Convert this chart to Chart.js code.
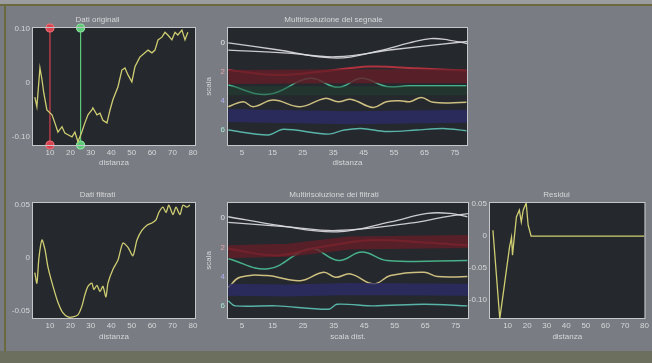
<!DOCTYPE html>
<html>
<head>
<meta charset="utf-8">
<script src="https://cdn.jsdelivr.net/npm/chart.js@4/dist/chart.umd.min.js"></script>
<style>
  html, body { margin: 0; padding: 0; }
  body { width: 652px; height: 363px; background: #797c82; position: relative; overflow: hidden; }
  #bordoAlto { position: absolute; left: 0; top: 0; width: 652px; height: 4px; background: #9a9c9f; }
  #lineaAlta { position: absolute; left: 0; top: 4px; width: 652px; height: 2px; background: #6b6a3e; }
  #lineaSx { position: absolute; left: 4px; top: 4px; width: 2px; height: 348px; background: #6b6a3e; }
  #bordoBasso { position: absolute; left: 0; top: 351px; width: 652px; height: 12px; background: #6d6f5e; }
  canvas.pannello { position: absolute; }
</style>
</head>
<body>
<div id="bordoAlto"></div>
<div id="lineaAlta"></div>
<div id="lineaSx"></div>
<div id="bordoBasso"></div>
<script>
// ---------- Dati originali ----------
const distOrig = [2.6,3.6,5.1,6.1,7.0,8.5,11,12.4,13.9,15.9,17.3,18.8,20.8,22.2,23.7,25.6,27.1,28.6,30.5,31,33,34.5,35.9,37.9,39.4,40.8,43.3,45.2,46.7,48.2,50.1,51.6,54,56.5,58,59.9,61.4,62.9,64.8,66.3,67.7,69.7,71.2,72.6,74.6,76.1,77.5];
const valOrig = [-0.026,-0.044,0.028,0.006,-0.019,-0.05,-0.059,-0.074,-0.091,-0.081,-0.093,-0.096,-0.1,-0.091,-0.109,-0.091,-0.074,-0.059,-0.05,-0.046,-0.059,-0.056,-0.069,-0.074,-0.05,-0.031,-0.007,0.024,0.028,0.015,0.002,0.03,0.048,0.056,0.061,0.056,0.061,0.08,0.085,0.094,0.089,0.08,0.094,0.089,0.098,0.08,0.094];

// cursori sul segnale originale
const cursoreRosso = 10;
const cursoreVerde = 25;

// ---------- Dati filtrati ----------
const distFilt = [2.6,3.6,4.6,6.1,7.6,9.0,11.5,13.9,16.3,18.8,21.2,23.7,25.6,27.1,28.6,30.5,31.5,33,34.5,35.9,37.4,38.4,40.8,43.3,45.7,48.2,50.6,52.6,55,57.5,59.9,61.9,63.3,65.3,66.8,68.2,70.2,71.7,73.6,75.1,77.0,78.5];
const valFilt = [-0.014,-0.024,0,0.017,0.0075,-0.0085,-0.027,-0.042,-0.052,-0.056,-0.056,-0.054,-0.046,-0.035,-0.027,-0.024,-0.03,-0.026,-0.032,-0.027,-0.037,-0.024,-0.011,-0.002,0.014,0.01,0.002,0.017,0.026,0.031,0.033,0.036,0.043,0.048,0.043,0.05,0.041,0.048,0.041,0.05,0.048,0.05];

// ---------- Residui ----------
const distRes = [2.5,6,8,11,12,12.5,14.5,16,17,18,19.5,20.5,22,80];
const valRes = [0.009,-0.13,-0.085,-0.017,-0.002,-0.03,0.03,0.041,0.022,0.041,0.052,0.017,0,0];

// ---------- Multirisoluzione del segnale (livelli 0..6) ----------
const mrOrigBianco1X = [0.5,16,36,50,60,67,73,79];
const mrOrigBianco1 = [0.0,0.45,1.05,0.55,0.0,-0.3,-0.2,0.05];
const mrOrigBianco2X = [0.5,20,36,55,79];
const mrOrigBianco2 = [0.5,0.7,0.95,0.45,-0.1];
const mrOrigRossoX = [0.5,16.4,30.6,47,62.4,78.8];
const mrOrigRosso = [1.86,2.2,1.98,1.63,1.75,1.9];
const mrOrigVerdeX = [0.5,13.6,27.3,36.6,44.3,52.5,60,78.8];
const mrOrigVerde = [2.9,3.54,2.44,3.06,2.44,3.0,2.95,2.95];
const mrOrigGialloX = [0.5,5.4,8.7,15.3,24.1,32.3,36.6,41,48.1,52.5,56.9,60.2,64,67.9,78.8];
const mrOrigGiallo = [4.39,4.05,4.39,3.93,4.39,3.82,4.05,3.89,4.44,4.05,3.98,4.05,3.75,4.09,4.09];
const mrOrigCianoX = [0.5,13.6,18.6,33.4,38.6,44.3,52.5,62.4,71.1,78.8];
const mrOrigCiano = [6.0,6.34,5.95,6.28,6.0,5.89,6.1,6.0,5.89,6.05];
const mrOrigBandeX = [0.5,40,79];
const mrOrigBandaRossa = [2.35,2.3,2.3];
const mrOrigBandaVerde = [3.3,3.3,3.3];
const mrOrigBandaBlu = [5.0,5.15,5.05];

// ---------- Multirisoluzione dei filtrati ----------
const mrFiltBianco1X = [0.5,16.4,36.1,53.6,65.7,73.3,78.8];
const mrFiltBianco1 = [-0.09,0.48,0.94,0.26,-0.32,-0.32,-0.09];
const mrFiltBianco2X = [0.5,20,36,60,72,79];
const mrFiltBianco2 = [0.3,0.6,0.85,0.35,-0.1,-0.3];
const mrFiltRossoX = [0.5,16.4,30.6,47,62.4,78.8];
const mrFiltRosso = [2.09,2.55,1.98,1.52,1.63,1.86];
const mrFiltVerdeX = [0.5,13.6,27.3,36.6,44.3,52.5,78.8];
const mrFiltVerde = [2.78,3.47,2.09,2.9,2.32,2.9,2.9];
const mrFiltGialloX = [0.5,4.3,13.1,24.1,31.7,35.6,40.5,48.1,53.6,64.6,69,78.8];
const mrFiltGiallo = [4.74,4.05,3.93,4.28,3.7,4.05,3.82,4.5,3.93,3.7,4.0,4.0];
const mrFiltCianoX = [0.5,2.7,16.4,33.4,36.1,48,64.6,78.8];
const mrFiltCiano = [5.66,6.0,6.0,6.23,5.89,6.0,5.89,6.0];
const mrFiltBandeX = [0.5,20,40,79];
const mrFiltBandaRossa = [2.3,2.2,1.7,1.6];
const mrFiltBandaBlu = [4.9,4.95,4.85,4.9];

// ---------- Assi ----------
const tickDist = [10,20,30,40,50,60,70,80];
const tickDistMr = [5,15,25,35,45,55,65,75];
const tickLivelli = [0,2,4,6];
const tickOrig = [-0.1,0,0.1];
const etichetteOrig = ['-0.10','0','0.10'];
const tickFilt = [-0.05,0,0.05];
const etichetteFilt = ['-0.05','0','0.05'];
const tickRes = [-0.1,-0.05,0,0.05];
const etichetteRes = ['-0.10','-0.05','0','0.05'];

const FONT = 'Liberation Sans';
const TESTO = '#d6d7da';
const SFONDO_GRAFICO = '#25282d';
const coloreLivello = {0:'#e2e2e4', 2:'#eaa6ae', 4:'#b0b0f0', 6:'#a6e8d4'};

const punti = (xs, ys) => xs.map((x, i) => ({x, y: ys[i]}));

const cornice = {
  id: 'cornice',
  beforeDraw(chart) {
    const {ctx, chartArea: a} = chart;
    ctx.save();
    ctx.fillStyle = SFONDO_GRAFICO;
    ctx.fillRect(a.left, a.top, a.width, a.height);
    ctx.restore();
  },
  afterDraw(chart) {
    const {ctx, chartArea: a} = chart;
    ctx.save();
    ctx.strokeStyle = '#c4c6ca';
    ctx.lineWidth = 1;
    ctx.strokeRect(a.left - 0.5, a.top - 0.5, a.width + 1, a.height + 1);
    ctx.restore();
  }
};

function linea(data, colore, spessore, extra) {
  return Object.assign({
    data, borderColor: colore, borderWidth: spessore, pointRadius: 0,
    tension: 0, fill: false
  }, extra || {});
}

// box: posizione del canvas; area: riquadro del grafico in pixel della pagina
function pannello(box, area, cfg) {
  const c = document.createElement('canvas');
  c.className = 'pannello';
  c.width = box.w; c.height = box.h;
  c.style.left = box.x + 'px';
  c.style.top = box.y + 'px';
  document.body.appendChild(c);
  const titoloH = 8 * 1.2;
  return new Chart(c, {
    type: 'line',
    data: { datasets: cfg.datasets },
    options: {
      responsive: false, animation: false, devicePixelRatio: 1,
      layout: { padding: { left: 0, top: 0, bottom: 0, right: box.x + box.w - area.r } },
      plugins: {
        legend: { display: false }, tooltip: { enabled: false },
        title: {
          display: true, text: cfg.titolo, color: TESTO,
          font: { family: FONT, size: 8, weight: 'normal' },
          padding: { top: area.t - box.y - titoloH - 3, bottom: 3 }
        }
      },
      scales: {
        x: {
          type: 'linear', min: cfg.xMin, max: cfg.xMax,
          grid: { display: false, drawTicks: false }, border: { display: false },
          afterFit(s) { s.height = box.y + box.h - area.b; },
          afterBuildTicks(s) { s.ticks = cfg.xTicks.map(v => ({value: v})); },
          ticks: { color: TESTO, font: { family: FONT, size: 8 }, padding: 3, maxRotation: 0,
                   callback: v => String(v) },
          title: { display: true, text: cfg.xTitolo, color: TESTO, font: { family: FONT, size: 8 },
                   padding: { top: 0, bottom: cfg.xTitoloPad } }
        },
        y: {
          type: 'linear', min: cfg.yMin, max: cfg.yMax, reverse: !!cfg.yInverso,
          grid: { display: false, drawTicks: false }, border: { display: false },
          afterFit(s) { s.width = area.l - box.x; },
          afterBuildTicks(s) { s.ticks = cfg.yTicks.map(v => ({value: v})); },
          ticks: {
            color: cfg.yColore || TESTO, font: { family: FONT, size: 8 }, padding: 3,
            callback: (v, i) => cfg.yEtichette ? cfg.yEtichette[i] : String(v)
          },
          title: { display: !!cfg.yTitolo, text: cfg.yTitolo || '', color: TESTO,
                   font: { family: FONT, size: 8 }, padding: { top: 4, bottom: 0 } }
        }
      }
    },
    plugins: [cornice]
  });
}

const SEGNALE = '#cfcd72';
const ROSSO = '#d8424e';
const VERDE = '#5cc878';

// Dati originali con i due cursori
const yMinOrig = -0.115, yMaxOrig = 0.102;
pannello({x: 0, y: 0, w: 215, h: 180}, {l: 33, t: 28, r: 195, b: 145}, {
  titolo: 'Dati originali', xTitolo: 'distanza', xTitoloPad: 12,
  xMin: 1.7, xMax: 81, xTicks: tickDist,
  yMin: yMinOrig, yMax: yMaxOrig, yTicks: tickOrig, yEtichette: etichetteOrig,
  datasets: [
    linea(punti(distOrig, valOrig), SEGNALE, 1.3),
    linea(punti([cursoreRosso, cursoreRosso], [yMinOrig, yMaxOrig]), ROSSO, 1.2,
      { pointRadius: 4, pointBackgroundColor: ROSSO, pointBorderColor: '#f07078', clip: false }),
    linea(punti([cursoreVerde, cursoreVerde], [yMinOrig, yMaxOrig]), VERDE, 1.2,
      { pointRadius: 4, pointBackgroundColor: VERDE, pointBorderColor: '#90e8a0', clip: false })
  ]
});

// Dati filtrati
pannello({x: 0, y: 175, w: 215, h: 180}, {l: 33, t: 203, r: 195, b: 318}, {
  titolo: 'Dati filtrati', xTitolo: 'distanza', xTitoloPad: 13,
  xMin: 1.7, xMax: 81, xTicks: tickDist,
  yMin: -0.057, yMax: 0.052, yTicks: tickFilt, yEtichette: etichetteFilt,
  datasets: [ linea(punti(distFilt, valFilt), SEGNALE, 1.3, { tension: 0.25 }) ]
});

const BIANCO = 'rgba(222,222,226,0.9)';
const ROSSO_MR = '#b0323f';
const VERDE_MR = '#48b08a';
const GIALLO_MR = '#cdbf80';
const CIANO_MR = '#58b4a8';
const BANDA_ROSSA = 'rgba(100,30,40,0.8)';
const BANDA_BLU = 'rgba(44,44,100,0.85)';
const coloreTickLivello = ctx => coloreLivello[ctx.tick && ctx.tick.value] || TESTO;

// Multirisoluzione del segnale
pannello({x: 200, y: 0, w: 285, h: 180}, {l: 228, t: 28, r: 467, b: 145}, {
  titolo: 'Multirisoluzione del segnale', xTitolo: 'distanza', xTitoloPad: 12,
  xMin: 0.4, xMax: 79, xTicks: tickDistMr,
  yMin: -1.03, yMax: 7.03, yInverso: true, yTicks: tickLivelli, yColore: coloreTickLivello,
  yTitolo: 'scala',
  datasets: [
    linea(punti(mrOrigBandeX, mrOrigBandaRossa), BANDA_ROSSA, 14),
    linea(punti(mrOrigBandeX, mrOrigBandaVerde), 'rgba(30,70,52,0.45)', 9),
    linea(punti(mrOrigBandeX, mrOrigBandaBlu), BANDA_BLU, 13),
    linea(punti(mrOrigBianco2X, mrOrigBianco2), BIANCO, 1.3, { tension: 0.4 }),
    linea(punti(mrOrigBianco1X, mrOrigBianco1), BIANCO, 1.3, { tension: 0.4 }),
    linea(punti(mrOrigRossoX, mrOrigRosso), ROSSO_MR, 2, { tension: 0.4 }),
    linea(punti(mrOrigVerdeX, mrOrigVerde), VERDE_MR, 1.5, { tension: 0.4 }),
    linea(punti(mrOrigGialloX, mrOrigGiallo), GIALLO_MR, 1.5, { tension: 0.4 }),
    linea(punti(mrOrigCianoX, mrOrigCiano), CIANO_MR, 1.4, { tension: 0.3 })
  ]
});

// Multirisoluzione dei filtrati
pannello({x: 200, y: 175, w: 285, h: 180}, {l: 228, t: 203, r: 468, b: 318}, {
  titolo: 'Multirisoluzione dei filtrati', xTitolo: 'scala dist.', xTitoloPad: 13,
  xMin: 0.4, xMax: 79, xTicks: tickDistMr,
  yMin: -1.03, yMax: 6.83, yInverso: true, yTicks: tickLivelli, yColore: coloreTickLivello,
  yTitolo: 'scala',
  datasets: [
    linea(punti(mrFiltBandeX, mrFiltBandaRossa), BANDA_ROSSA, 13),
    linea(punti(mrFiltBandeX, mrFiltBandaBlu), BANDA_BLU, 12),
    linea(punti(mrFiltBianco2X, mrFiltBianco2), BIANCO, 1.3, { tension: 0.4 }),
    linea(punti(mrFiltBianco1X, mrFiltBianco1), BIANCO, 1.3, { tension: 0.4 }),
    linea(punti(mrFiltRossoX, mrFiltRosso), ROSSO_MR, 2, { tension: 0.4 }),
    linea(punti(mrFiltVerdeX, mrFiltVerde), VERDE_MR, 1.5, { tension: 0.4 }),
    linea(punti(mrFiltGialloX, mrFiltGiallo), GIALLO_MR, 1.5, { tension: 0.4 }),
    linea(punti(mrFiltCianoX, mrFiltCiano), CIANO_MR, 1.4, { tension: 0.3 })
  ]
});

// Residui
pannello({x: 465, y: 175, w: 187, h: 180}, {l: 490, t: 203, r: 648, b: 318}, {
  titolo: 'Residui', xTitolo: 'distanza', xTitoloPad: 13,
  xMin: 1, xMax: 80, xTicks: tickDist,
  yMin: -0.129, yMax: 0.052, yTicks: tickRes, yEtichette: etichetteRes,
  datasets: [ linea(punti(distRes, valRes), SEGNALE, 1.3) ]
});
</script>
</body>
</html>
